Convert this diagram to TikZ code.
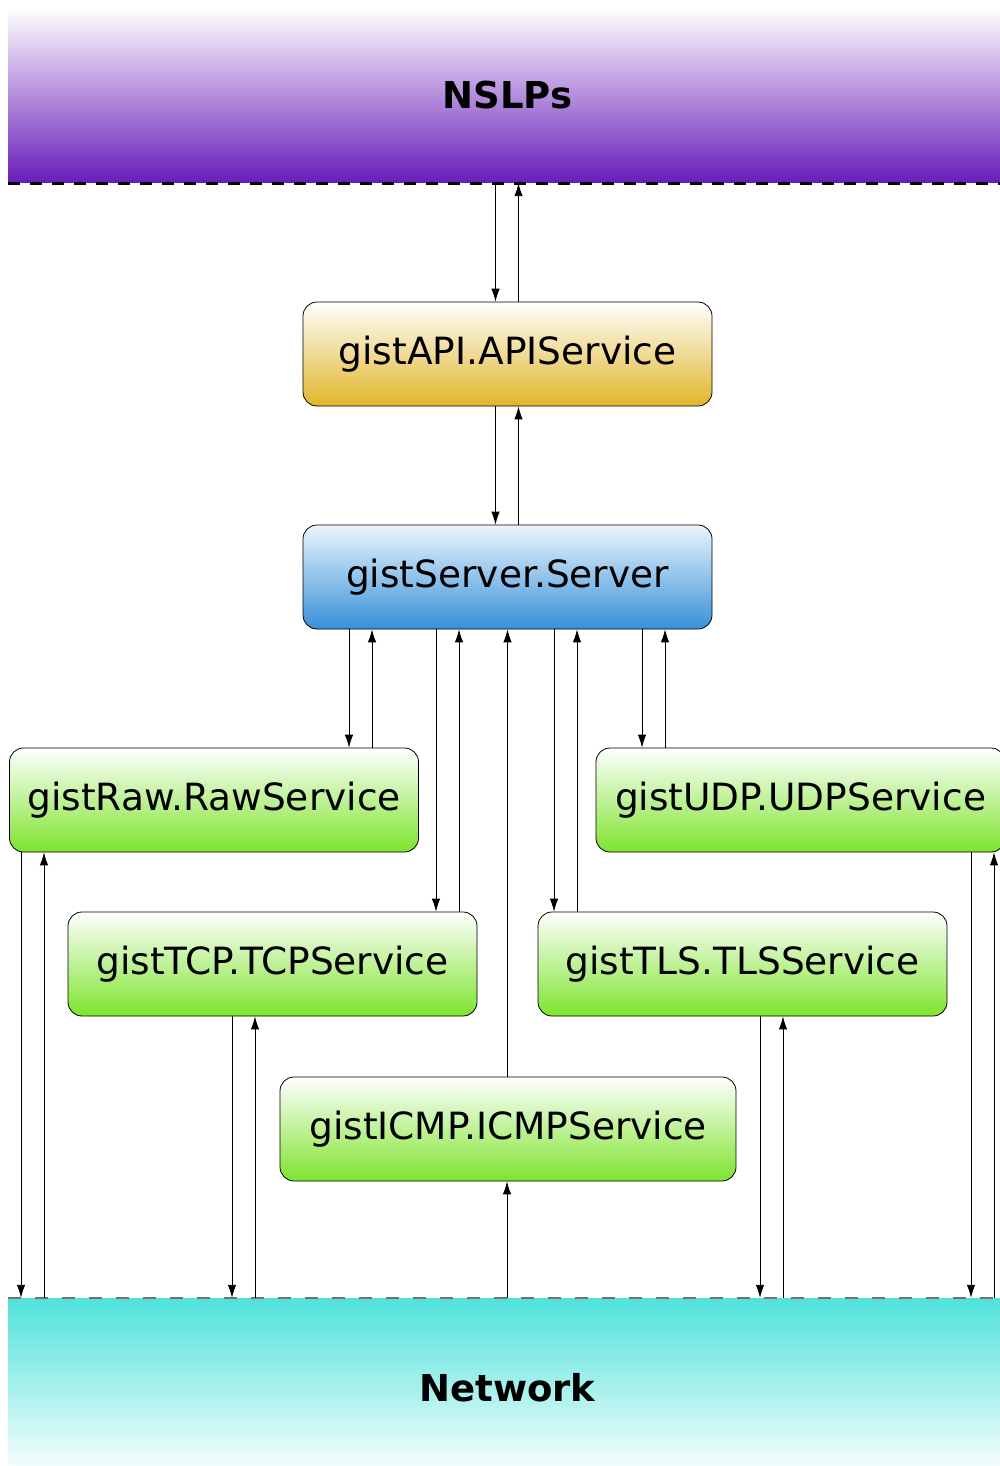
\documentclass[tikz,border=0pt]{standalone}
\usepackage{fontspec}
\setmainfont{DejaVu Sans}
\usetikzlibrary{arrows.meta}

\definecolor{nslpviolet}{RGB}{104,28,186}
\definecolor{netcyan}{RGB}{80,226,218}
\definecolor{apigold}{RGB}{225,181,42}
\definecolor{srvblue}{RGB}{54,144,216}
\definecolor{srvpale}{RGB}{236,245,253}
\definecolor{modgreen}{RGB}{126,228,46}

\tikzset{
  band/.style={minimum width=998pt, inner sep=0pt, font=\fontsize{37}{44}\selectfont\bfseries},
  service/.style={draw=black, line width=0.8pt, rounded corners=14pt, minimum height=104pt, inner sep=0pt, font=\fontsize{37.5}{45}\selectfont},
  module/.style={service, minimum width=409pt, top color=white, bottom color=modgreen},
  flow/.style={-{Latex[length=13pt,width=8.5pt]}, line width=0.9pt},
}

\begin{document}
\begin{tikzpicture}[x=1pt,y=-1pt]
\useasboundingbox (0,0) rectangle (999,1466);

% the two layers
\node[band, minimum height=175pt, top color=white, bottom color=nslpviolet] (nslp) at (507.5,95.5) {NSLPs};
\node[band, minimum height=180pt, top color=netcyan, bottom color=white] (net) at (507.5,1388) {Network};
\draw[black, line width=2.8pt, dash pattern=on 12pt off 10pt] (nslp.south west) -- (nslp.south east);
\draw[black!55, line width=1.5pt, dash pattern=on 13pt off 14pt] (net.north west) -- (net.north east);

% services
\node[service, minimum width=409pt, top color=white, bottom color=apigold] (api) at (507.5,354) {gistAPI.APIService};
\node[service, minimum width=409pt, top color=srvpale, bottom color=srvblue] (srv) at (507.5,577) {gistServer.Server};
\node[module] (raw) at (214,800) {gistRaw.RawService};
\node[module] (udp) at (800.5,800) {gistUDP.UDPService};
\node[module] (tcp) at (272.5,964) {gistTCP.TCPService};
\node[module] (tls) at (742.5,964) {gistTLS.TLSService};
\node[module, minimum width=456pt] (icmp) at (508,1129) {gistICMP.ICMPService};

% NSLPs <-> API <-> server
\draw[flow] ([xshift=-12pt]nslp.south) -- ([xshift=-12pt]nslp.south |- api.north);
\draw[flow] ([xshift=11pt]api.north) -- ([xshift=11pt]api.north |- nslp.south);
\draw[flow] ([xshift=-12pt]api.south) -- ([xshift=-12pt]api.south |- srv.north);
\draw[flow] ([xshift=11pt]srv.north) -- ([xshift=11pt]srv.north |- api.south);

% server <-> transport modules
\draw[flow] ([xshift=-158.5pt]srv.south) -- ([xshift=-158.5pt]srv.south |- raw.north);
\draw[flow] ([xshift=-135.5pt]srv.south |- raw.north) -- ([xshift=-135.5pt]srv.south);
\draw[flow] ([xshift=-71.5pt]srv.south) -- ([xshift=-71.5pt]srv.south |- tcp.north);
\draw[flow] ([xshift=-48.5pt]srv.south |- tcp.north) -- ([xshift=-48.5pt]srv.south);
\draw[flow] (icmp.north -| srv.south) -- (srv.south);
\draw[flow] ([xshift=46.5pt]srv.south) -- ([xshift=46.5pt]srv.south |- tls.north);
\draw[flow] ([xshift=69.5pt]srv.south |- tls.north) -- ([xshift=69.5pt]srv.south);
\draw[flow] ([xshift=134.5pt]srv.south) -- ([xshift=134.5pt]srv.south |- udp.north);
\draw[flow] ([xshift=157.5pt]srv.south |- udp.north) -- ([xshift=157.5pt]srv.south);

% modules <-> network
\draw[flow] ([xshift=-193pt]raw.south) -- ([xshift=-193pt]raw.south |- net.north);
\draw[flow] ([xshift=-170pt]raw.south |- net.north) -- ([xshift=-170pt]raw.south);
\draw[flow] ([xshift=-40.5pt]tcp.south) -- ([xshift=-40.5pt]tcp.south |- net.north);
\draw[flow] ([xshift=-17.5pt]tcp.south |- net.north) -- ([xshift=-17.5pt]tcp.south);
\draw[flow] ([xshift=-1pt]icmp.south |- net.north) -- ([xshift=-1pt]icmp.south);
\draw[flow] ([xshift=17.5pt]tls.south) -- ([xshift=17.5pt]tls.south |- net.north);
\draw[flow] ([xshift=40.5pt]tls.south |- net.north) -- ([xshift=40.5pt]tls.south);
\draw[flow] ([xshift=170.5pt]udp.south) -- ([xshift=170.5pt]udp.south |- net.north);
\draw[flow] ([xshift=193.5pt]udp.south |- net.north) -- ([xshift=193.5pt]udp.south);
\end{tikzpicture}
\end{document}
